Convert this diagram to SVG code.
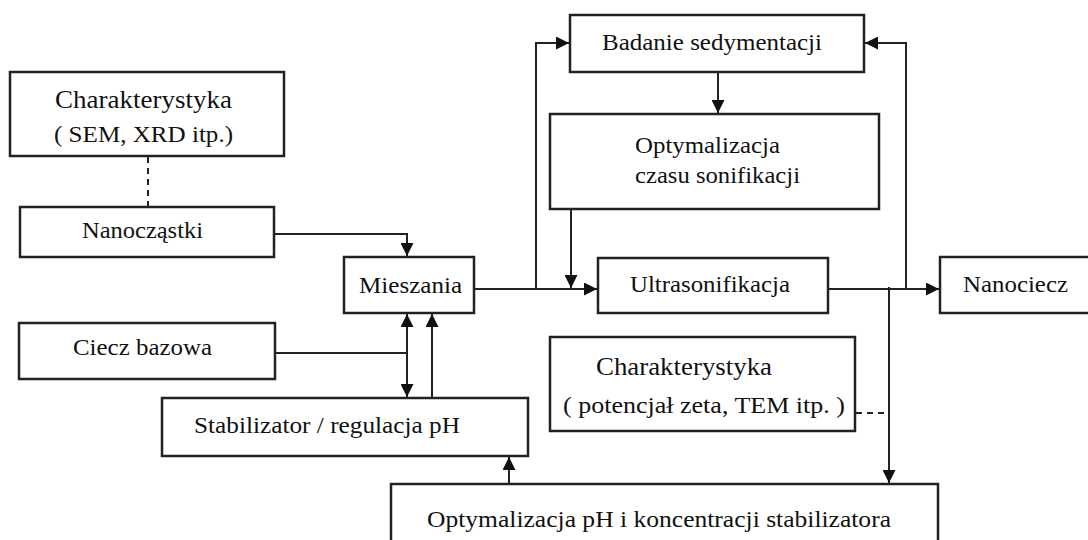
<svg xmlns="http://www.w3.org/2000/svg" width="1088" height="540" viewBox="0 0 1088 540">
<style>
.box{fill:#fff;stroke:#222;stroke-width:2.5}
.t{font-family:"Liberation Serif","Times New Roman",serif;font-size:24px;fill:#111}
.tl{font-family:"Liberation Serif","Times New Roman",serif;font-size:26px;fill:#111}
.c{fill:none;stroke:#222;stroke-width:2}
.d{fill:none;stroke:#222;stroke-width:2;stroke-dasharray:6,5}
</style>
<defs>
<marker id="ah" viewBox="0 0 13 13" refX="13" refY="6.5" markerWidth="13" markerHeight="13" markerUnits="userSpaceOnUse" orient="auto-start-reverse">
<path d="M0,0 L13,6.5 L0,13 Z" fill="#111"/>
</marker>
</defs>
<rect width="1088" height="540" fill="#fff"/>
<g id="connectors">
<path class="d" d="M148,157 V207"/>
<path class="c" d="M274,234 H407 V256" marker-end="url(#ah)"/>
<path class="c" d="M274,353 H407"/>
<path class="c" d="M407,314 V397" marker-start="url(#ah)" marker-end="url(#ah)"/>
<path class="c" d="M432,398 V314" marker-end="url(#ah)"/>
<path class="c" d="M509,484 V457" marker-end="url(#ah)"/>
<path class="c" d="M474,289 H597" marker-end="url(#ah)"/>
<path class="c" d="M536,289 V43 H569" marker-end="url(#ah)"/>
<path class="c" d="M718,72 V113" marker-end="url(#ah)"/>
<path class="c" d="M571,209 V288" marker-end="url(#ah)"/>
<path class="c" d="M828,289 H939" marker-end="url(#ah)"/>
<path class="c" d="M906,289 V43 H865" marker-end="url(#ah)"/>
<path class="c" d="M889,287 V483" marker-end="url(#ah)"/>
<path class="d" d="M856,413 H889"/>
</g>
<g id="charakterystyka1">
<rect class="box" x="10" y="72" width="274" height="84"/>
<text class="tl" x="55" y="108" textLength="177" lengthAdjust="spacingAndGlyphs">Charakterystyka</text>
<text class="t" x="54" y="142" textLength="179" lengthAdjust="spacingAndGlyphs">( SEM, XRD itp.)</text>
</g>
<g id="nanoczastki">
<rect class="box" x="20" y="207" width="254" height="50"/>
<text class="t" x="82" y="238" textLength="121" lengthAdjust="spacingAndGlyphs">Nanocząstki</text>
</g>
<g id="mieszania">
<rect class="box" x="344" y="257" width="130" height="56"/>
<text class="t" x="359" y="293" textLength="103" lengthAdjust="spacingAndGlyphs">Mieszania</text>
</g>
<g id="ciecz">
<rect class="box" x="19" y="323" width="256" height="56"/>
<text class="t" x="73" y="355" textLength="139" lengthAdjust="spacingAndGlyphs">Ciecz bazowa</text>
</g>
<g id="stabilizator">
<rect class="box" x="162" y="398" width="366" height="58"/>
<text class="t" x="194" y="433" textLength="266" lengthAdjust="spacingAndGlyphs">Stabilizator / regulacja pH</text>
</g>
<g id="badanie">
<rect class="box" x="570" y="15" width="294" height="57"/>
<text class="t" x="602" y="50" textLength="220" lengthAdjust="spacingAndGlyphs">Badanie sedymentacji</text>
</g>
<g id="optymalizacja-czasu">
<rect class="box" x="550" y="114" width="329" height="95"/>
<text class="t" x="635" y="153" textLength="145" lengthAdjust="spacingAndGlyphs">Optymalizacja</text>
<text class="t" x="635" y="183" textLength="165" lengthAdjust="spacingAndGlyphs">czasu sonifikacji</text>
</g>
<g id="ultrasonifikacja">
<rect class="box" x="598" y="258" width="230" height="55"/>
<text class="t" x="630" y="292" textLength="160" lengthAdjust="spacingAndGlyphs">Ultrasonifikacja</text>
</g>
<g id="nanociecz">
<rect class="box" x="940" y="257" width="155" height="56"/>
<text class="t" x="963" y="292" textLength="105" lengthAdjust="spacingAndGlyphs">Nanociecz</text>
</g>
<g id="charakterystyka2">
<rect class="box" x="550" y="337" width="305" height="94"/>
<text class="tl" x="596" y="375" textLength="176" lengthAdjust="spacingAndGlyphs">Charakterystyka</text>
<text class="t" x="563" y="413" textLength="282" lengthAdjust="spacingAndGlyphs">( potencjał zeta,  TEM itp. )</text>
</g>
<g id="optymalizacja-ph">
<rect class="box" x="391" y="484" width="547" height="70"/>
<text class="t" x="427" y="527" textLength="464" lengthAdjust="spacingAndGlyphs">Optymalizacja pH i koncentracji  stabilizatora</text>
</g>
</svg>
